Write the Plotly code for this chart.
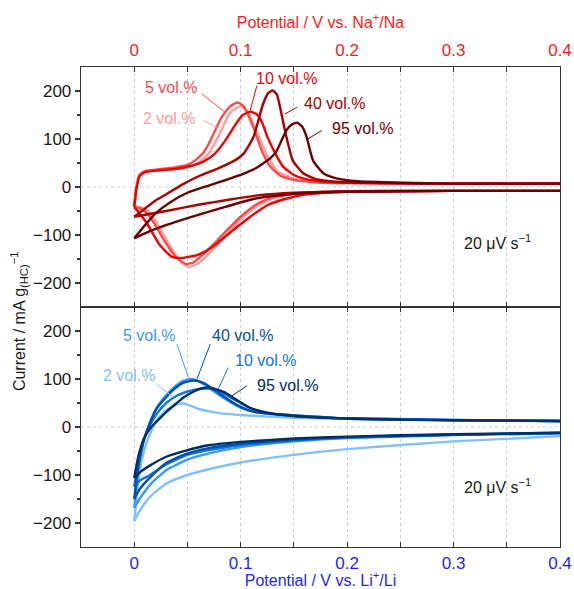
import plotly.graph_objects as go

# ---------------- DATA ----------------
series_names = ["2 vol.%", "5 vol.%", "10 vol.%", "40 vol.%", "95 vol.%"]
na_colors = ["#ff9c9c", "#ff4a4a", "#f20000", "#a80000", "#6a0000"]
li_colors = ["#80c0ff", "#3a98ff", "#0f74f0", "#0052a8", "#002f66"]

# Upper panel (Na) - anodic branches (x ascending)
na2_an_x = [0, 0.002, 0.005, 0.01, 0.02, 0.035, 0.05, 0.06, 0.07, 0.08, 0.09, 0.1, 0.107, 0.115, 0.125, 0.135, 0.15, 0.17, 0.2, 0.3, 0.4]
na2_an_y = [-40, 0, 25, 32, 35, 37, 41, 50, 70, 110, 155, 168, 155, 115, 65, 32, 17, 11, 8, 7, 7]
na5_an_x = [0, 0.002, 0.005, 0.01, 0.02, 0.038, 0.05, 0.057, 0.065, 0.07, 0.082, 0.09, 0.097, 0.103, 0.112, 0.12, 0.128, 0.137, 0.15, 0.17, 0.2, 0.3, 0.4]
na5_an_y = [-42, 0, 25, 33, 36, 41, 46, 55, 72, 90, 145, 168, 176, 168, 124, 75, 42, 24, 15, 10, 8, 7, 7]
na10_an_x = [0, 0.002, 0.005, 0.01, 0.02, 0.04, 0.055, 0.065, 0.075, 0.085, 0.095, 0.102, 0.109, 0.115, 0.12, 0.125, 0.133, 0.14, 0.15, 0.16, 0.18, 0.2, 0.3, 0.4]
na10_an_y = [-42, -5, 22, 31, 34, 38, 45, 53, 68, 95, 130, 150, 157, 152, 135, 105, 68, 42, 25, 17, 11, 9, 7, 7]
na40_an_x = [0, 0.01, 0.02, 0.031, 0.045, 0.062, 0.08, 0.095, 0.103, 0.112, 0.121, 0.126, 0.13, 0.134, 0.137, 0.143, 0.149, 0.159, 0.17, 0.19, 0.22, 0.3, 0.4]
na40_an_y = [-62, -45, -28, -14, 5, 24, 40, 56, 70, 104, 173, 196, 201, 193, 166, 104, 55, 28, 17, 11, 9, 7, 7]
na95_an_x = [0, 0.01, 0.02, 0.035, 0.05, 0.07, 0.085, 0.103, 0.115, 0.121, 0.128, 0.134, 0.139, 0.143, 0.148, 0.153, 0.158, 0.162, 0.168, 0.178, 0.19, 0.21, 0.25, 0.3, 0.4]
na95_an_y = [-107, -80, -55, -30, -12, 3, 14, 28, 40, 49, 60, 76, 100, 118, 130, 134, 125, 104, 55, 28, 18, 12, 9, 7, 7]

# Upper panel (Na) - cathodic branches (x ascending)
na2_ca_x = [0, 0.006, 0.012, 0.02, 0.03, 0.04, 0.047, 0.052, 0.058, 0.065, 0.075, 0.085, 0.1, 0.115, 0.13, 0.15, 0.17, 0.2, 0.3, 0.4]
na2_ca_y = [-40, -42, -48, -70, -110, -145, -162, -166, -162, -150, -128, -103, -68, -40, -24, -15, -11, -9, -8, -8]
na5_ca_x = [0, 0.006, 0.012, 0.02, 0.03, 0.04, 0.048, 0.055, 0.065, 0.075, 0.085, 0.1, 0.115, 0.13, 0.15, 0.17, 0.2, 0.3, 0.4]
na5_ca_y = [-42, -45, -55, -80, -118, -148, -160, -158, -140, -118, -95, -62, -36, -21, -14, -11, -9, -8, -8]
na10_ca_x = [0, 0.005, 0.012, 0.024, 0.035, 0.042, 0.05, 0.059, 0.07, 0.078, 0.09, 0.109, 0.125, 0.14, 0.16, 0.2, 0.3, 0.4]
na10_ca_y = [-42, -55, -76, -121, -145, -148, -146, -142, -130, -117, -95, -62, -38, -26, -16, -10, -8, -8]
na40_ca_x = [0, 0.03, 0.06, 0.09, 0.118, 0.15, 0.2, 0.3, 0.4]
na40_ca_y = [-62, -50, -37, -26, -17, -12, -9, -8, -8]
na95_ca_x = [0, 0.017, 0.05, 0.08, 0.114, 0.15, 0.2, 0.3, 0.4]
na95_ca_y = [-107, -90, -65, -45, -24, -14, -10, -8, -8]

# Lower panel (Li) - anodic branches
li2_an_x = [0, 0.003, 0.007, 0.012, 0.02, 0.03, 0.04, 0.046, 0.053, 0.06, 0.07, 0.08, 0.1, 0.13, 0.17, 0.22, 0.3, 0.4]
li2_an_y = [-196, -130, -70, -30, 10, 35, 47, 49, 44, 38, 33, 29, 25, 21, 18, 16, 14, 12]
li5_an_x = [0, 0.004, 0.009, 0.015, 0.021, 0.03, 0.037, 0.045, 0.053, 0.06, 0.068, 0.078, 0.09, 0.1, 0.112, 0.125, 0.15, 0.187, 0.25, 0.32, 0.4]
li5_an_y = [-168, -90, -29, 10, 40, 66, 82, 95, 100, 96, 85, 69, 52, 40, 32, 28, 24, 19, 17, 14, 12.5]
li10_an_x = [0, 0.004, 0.009, 0.015, 0.022, 0.03, 0.04, 0.05, 0.06, 0.07, 0.08, 0.09, 0.1, 0.11, 0.125, 0.14, 0.17, 0.22, 0.3, 0.4]
li10_an_y = [-125, -70, -25, 5, 30, 50, 65, 74, 79, 80, 74, 62, 50, 38, 29, 25, 20, 17, 14, 12.5]
li40_an_x = [0, 0.004, 0.009, 0.015, 0.021, 0.03, 0.038, 0.046, 0.056, 0.065, 0.075, 0.085, 0.1, 0.112, 0.125, 0.15, 0.19, 0.25, 0.32, 0.4]
li40_an_y = [-150, -80, -28, 10, 38, 62, 80, 92, 97, 92, 78, 62, 42, 32, 28, 24, 19, 16, 14, 12.5]
li95_an_x = [0, 0.004, 0.009, 0.016, 0.024, 0.031, 0.04, 0.046, 0.055, 0.062, 0.068, 0.075, 0.085, 0.093, 0.109, 0.125, 0.14, 0.17, 0.22, 0.3, 0.4]
li95_an_y = [-106, -60, -25, 0, 18, 33, 50, 61, 73, 80, 82, 80, 72, 61, 40, 30, 25, 20, 16, 14, 12.5]

# Lower panel (Li) - cathodic branches
li2_ca_x = [0, 0.005, 0.015, 0.03, 0.05, 0.07, 0.1, 0.15, 0.2, 0.3, 0.4]
li2_ca_y = [-196, -175, -145, -118, -100, -88, -74, -58, -46, -30, -19]
li5_ca_x = [0, 0.005, 0.015, 0.03, 0.05, 0.07, 0.1, 0.15, 0.2, 0.3, 0.4]
li5_ca_y = [-168, -150, -120, -90, -68, -55, -42, -30, -23, -17, -13]
li10_ca_x = [0, 0.005, 0.015, 0.03, 0.05, 0.07, 0.1, 0.15, 0.2, 0.3, 0.4]
li10_ca_y = [-125, -112, -100, -78, -58, -48, -38, -28, -22, -16, -13]
li40_ca_x = [0, 0.005, 0.015, 0.03, 0.05, 0.07, 0.1, 0.15, 0.2, 0.3, 0.4]
li40_ca_y = [-150, -130, -105, -75, -55, -44, -35, -26, -21, -16, -12]
li95_ca_x = [0, 0.005, 0.015, 0.03, 0.05, 0.07, 0.1, 0.15, 0.2, 0.3, 0.4]
li95_ca_y = [-106, -95, -80, -62, -48, -38, -31, -24, -20, -15, -12]

na_curves = [(na2_an_x, na2_an_y, na2_ca_x, na2_ca_y),
             (na5_an_x, na5_an_y, na5_ca_x, na5_ca_y),
             (na10_an_x, na10_an_y, na10_ca_x, na10_ca_y),
             (na40_an_x, na40_an_y, na40_ca_x, na40_ca_y),
             (na95_an_x, na95_an_y, na95_ca_x, na95_ca_y)]
li_curves = [(li2_an_x, li2_an_y, li2_ca_x, li2_ca_y),
             (li5_an_x, li5_an_y, li5_ca_x, li5_ca_y),
             (li10_an_x, li10_an_y, li10_ca_x, li10_ca_y),
             (li40_an_x, li40_an_y, li40_ca_x, li40_ca_y),
             (li95_an_x, li95_an_y, li95_ca_x, li95_ca_y)]

x_ticks = [0, 0.1, 0.2, 0.3, 0.4]
x_tick_text = ["0", "0.1", "0.2", "0.3", "0.4"]
y_ticks = [-200, -100, 0, 100, 200]
y_tick_text = ["\u2212200", "\u2212100", "0", "100", "200"]

# ---------------- FIGURE ----------------
FONT = "Liberation Sans, Arial, sans-serif"
fig = go.Figure()

def add_loop(curve, color, xa, ya, name):
    ax, ay, cx, cy = curve
    for bx, by in ((ax, ay), (cx, cy)):
        fig.add_trace(go.Scatter(x=bx, y=by, mode="lines", name=name, showlegend=False,
                                 line=dict(color=color, width=2.4, shape="spline", smoothing=0.5),
                                 xaxis=xa, yaxis=ya, hoverinfo="skip"))

for name, curve, col in zip(series_names, na_curves, na_colors):
    add_loop(curve, col, "x2", "y2", name)
for name, curve, col in zip(series_names, li_curves, li_colors):
    add_loop(curve, col, "x", "y", name)

LINE = "#333333"
GRID = "#cfcfcf"
GDASH = "3px,3px"
common_x = dict(range=[-0.05, 0.4], tickvals=x_ticks, ticktext=x_tick_text, automargin=False,
                ticks="inside", ticklen=5, tickwidth=1.2, tickcolor=LINE,
                showline=True, linecolor=LINE, linewidth=1.3, mirror="ticks",
                showgrid=True, gridcolor=GRID, griddash=GDASH, gridwidth=1,
                minor=dict(tickvals=[0.05, 0.15, 0.25, 0.35], ticks="inside", ticklen=5,
                           tickcolor=LINE, tickwidth=1.2, showgrid=True,
                           gridcolor=GRID, griddash=GDASH, gridwidth=1),
                zeroline=False, fixedrange=True)
common_y = dict(range=[-250, 250], tickvals=y_ticks, ticktext=y_tick_text, automargin=False,
                ticks="outside", ticklen=5, tickwidth=1.2, tickcolor=LINE,
                showline=True, linecolor=LINE, linewidth=1.3, mirror=True,
                showgrid=False, zeroline=False, fixedrange=True,
                minor=dict(tickvals=[-150, -50, 50, 150], ticks="outside", ticklen=3,
                           tickcolor=LINE, tickwidth=1.2),
                tickfont=dict(size=17, color="#1a1a1a", family=FONT))

fig.update_layout(
    width=574, height=589,
    margin=dict(l=81, r=14, t=67, b=42),
    paper_bgcolor="white", plot_bgcolor="white",
    font=dict(family=FONT, size=16, color="#1a1a1a"),
    xaxis=dict(common_x, anchor="y", side="bottom",
               tickfont=dict(size=17, color="#1f1fff", family=FONT),
               title=dict(text="Potential / V vs. Li<sup>+</sup>/Li", standoff=2,
                          font=dict(size=16, color="#1f1fff", family=FONT))),
    xaxis2=dict(common_x, anchor="y2", side="top", ticklabelstandoff=3,
                tickfont=dict(size=17, color="#ff1a1a", family=FONT),
                title=dict(text="Potential / V vs. Na<sup>+</sup>/Na", standoff=8,
                           font=dict(size=16, color="#ff1a1a", family=FONT))),
    yaxis=dict(common_y, domain=[0, 0.5], anchor="x"),
    yaxis2=dict(common_y, domain=[0.5, 1], anchor="x2"),
)

# dashed zero lines
for yr in ["y", "y2"]:
    fig.add_shape(type="line", xref="x domain", x0=0, x1=1, yref=yr, y0=0, y1=0,
                  line=dict(color=GRID, width=1, dash=GDASH), layer="below")

# y-axis title
fig.add_annotation(text="Current / mA g<sub>(HC)</sub><sup>\u22121</sup>", xref="paper", yref="paper",
                   x=-0.128, y=0.47, xanchor="center", yanchor="middle", textangle=-90, showarrow=False,
                   font=dict(size=16, color="#1a1a1a", family=FONT))

# series labels with leader lines
na_label_pos = [(0.033, 142.5), (0.0347, 207.5), (0.143, 225.5), (0.188, 173.6), (0.214, 121.8)]
na_leaders = [(0.0648, 138.4, 0.0777, 124.5), (0.0636, 193.8, 0.0854, 155.6),
              (0.1152, 211, 0.1089, 159), (0.1528, 166, 0.1418, 152.3), (0.1762, 117.6, 0.1634, 100.4)]
li_label_pos = [(-0.0047, 106.5), (0.0141, 190), (0.1235, 137.8), (0.1019, 190), (0.1441, 85.6)]
li_leaders = [(0.0213, 89.1, 0.0369, 61.2), (0.0401, 172.7, 0.051, 102.9),
              (0.0883, 123.8, 0.0789, 78.7), (0.0714, 172.7, 0.0589, 99.6), (0.1058, 85.6, 0.0917, 64.7)]

for name, pos, ld, col in zip(series_names, na_label_pos, na_leaders, na_colors):
    fig.add_annotation(text=name, x=pos[0], y=pos[1], xref="x2", yref="y2", showarrow=False,
                       font=dict(size=16, color=col, family=FONT))
    fig.add_shape(type="line", xref="x2", yref="y2", x0=ld[0], y0=ld[1], x1=ld[2], y1=ld[3],
                  line=dict(color=col, width=1))
for name, pos, ld, col in zip(series_names, li_label_pos, li_leaders, li_colors):
    fig.add_annotation(text=name, x=pos[0], y=pos[1], xref="x", yref="y", showarrow=False,
                       font=dict(size=16, color=col, family=FONT))
    fig.add_shape(type="line", xref="x", yref="y", x0=ld[0], y0=ld[1], x1=ld[2], y1=ld[3],
                  line=dict(color=col, width=1))

fig.add_annotation(text="20 \u03bcV s<sup>\u22121</sup>", x=0.341, y=-114, xref="x2", yref="y2",
                   showarrow=False, font=dict(size=16, color="#1a1a1a", family=FONT))
fig.add_annotation(text="20 \u03bcV s<sup>\u22121</sup>", x=0.341, y=-123, xref="x", yref="y",
                   showarrow=False, font=dict(size=16, color="#1a1a1a", family=FONT))

fig.write_html("out.html", config={"displayModeBar": False, "staticPlot": True},
               post_script="document.body.style.margin='0px';document.body.style.overflow='hidden';")
